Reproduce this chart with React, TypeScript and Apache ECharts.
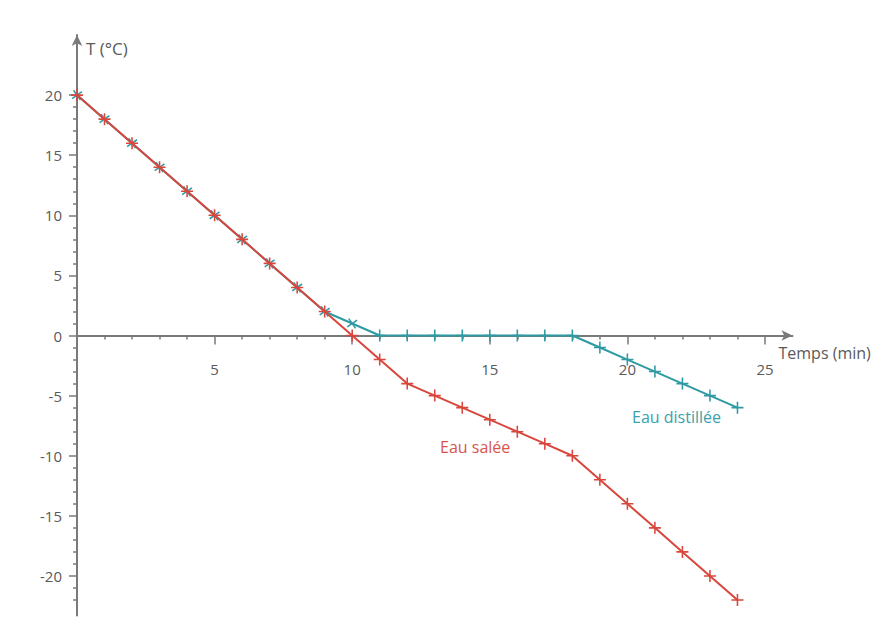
import { useEffect, useRef } from 'react';
import * as echarts from 'echarts';

const times = [0, 1, 2, 3, 4, 5, 6, 7, 8, 9, 10, 11, 12, 13, 14, 15, 16, 17, 18, 19, 20, 21, 22, 23, 24];
const eauSalee = [20, 18, 16, 14, 12, 10, 8, 6, 4, 2, 0, -2, -4, -5, -6, -7, -8, -9, -10, -12, -14, -16, -18, -20, -22];
const eauDistillee = [20, 18, 16, 14, 12, 10, 8, 6, 4, 2, 1, 0, 0, 0, 0, 0, 0, 0, 0, -1, -2, -3, -4, -5, -6];

const xMajorTicks = [5, 10, 15, 20, 25];
const xMinorTicks = [1, 2, 3, 4, 6, 7, 8, 9, 11, 12, 13, 14, 16, 17, 18, 19, 21, 22, 23, 24];
const yMajorTicks = [-20, -15, -10, -5, 0, 5, 10, 15, 20];
const yMinorTicks = [-22, -21, -19, -18, -17, -16, -14, -13, -12, -11, -9, -8, -7, -6, -4, -3, -2, -1, 1, 2, 3, 4, 6, 7, 8, 9, 11, 12, 13, 14, 16, 17, 18, 19];

const RED = '#d8463c';
const TEAL = '#2e9aa4';
const AXIS = '#7a7a7a';
const TEXT = '#5a5a5a';
const FONT = '"Open Sans", "Noto Sans", sans-serif';
const PLUS = 'path://M-0.13,-1H0.13V-0.13H1V0.13H0.13V1H-0.13V0.13H-1V-0.13H-0.13Z';

const Y_MIN = -23.3;
const Y_MAX = 25;
const GRID_TOP = 35;
const GRID_BOTTOM = 15.4;
const H = 631;

export default function App() {
  const ref = useRef<HTMLDivElement>(null);
  useEffect(() => {
    const chart = echarts.init(ref.current!, null, { renderer: 'svg' });
    const plotH = H - GRID_TOP - GRID_BOTTOM;
    const zeroFromBottom = (0 - Y_MIN) / (Y_MAX - Y_MIN) * plotH;
    const xBase = { type: 'value', min: 0, max: 26, position: 'bottom', splitLine: { show: false } };
    const yBase = { type: 'value', min: Y_MIN, max: Y_MAX, position: 'left', splitLine: { show: false } };
    chart.setOption({
      animation: false,
      backgroundColor: '#ffffff',
      grid: { left: 77, right: 97.5, top: GRID_TOP, bottom: GRID_BOTTOM, containLabel: false, outerBoundsMode: 'none' },
      xAxis: [
        {
          ...xBase,
          name: 'Temps (min)',
          nameLocation: 'end',
          nameGap: -14,
          nameTextStyle: { color: TEXT, fontSize: 16, fontFamily: FONT, align: 'left', verticalAlign: 'top', padding: [9, 0, 0, 0] },
          axisLine: { show: true, onZero: true, symbol: ['none', 'arrow'], symbolSize: [8, 11], lineStyle: { color: AXIS, width: 2 } },
          axisTick: { show: true, customValues: xMinorTicks, length: 4, lineStyle: { color: AXIS, width: 1.5 } },
          axisLabel: { show: false },
        },
        {
          ...xBase,
          offset: -zeroFromBottom,
          axisLine: { show: false, onZero: false },
          axisTick: { show: true, customValues: xMajorTicks, length: 9, lineStyle: { color: AXIS, width: 1.5 } },
          axisLabel: { show: true, customValues: xMajorTicks, margin: 26, color: TEXT, fontSize: 15, fontFamily: FONT },
        },
      ],
      yAxis: [
        {
          ...yBase,
          name: 'T (°C)',
          nameLocation: 'end',
          nameGap: -5,
          nameTextStyle: { color: TEXT, fontSize: 17, fontFamily: FONT, align: 'left', verticalAlign: 'top', padding: [0, 0, 0, 9] },
          axisLine: { show: true, onZero: true, symbol: ['none', 'arrow'], symbolSize: [8, 11], lineStyle: { color: AXIS, width: 2 } },
          axisTick: { show: true, customValues: yMinorTicks, length: 4, lineStyle: { color: AXIS, width: 1.5 } },
          axisLabel: { show: false },
        },
        {
          ...yBase,
          axisLine: { show: false, onZero: false },
          axisTick: { show: true, customValues: yMajorTicks, length: 8, lineStyle: { color: AXIS, width: 1.5 } },
          axisLabel: { show: true, customValues: yMajorTicks, margin: 15, color: TEXT, fontSize: 15, fontFamily: FONT },
        },
      ],
      series: [
        {
          name: 'Eau distillée',
          type: 'line',
          xAxisIndex: 1,
          yAxisIndex: 1,
          data: times.map((t, i) => ({ value: [t, eauDistillee[i]], symbolRotate: t <= 10 ? 35 : 0 })),
          symbol: PLUS,
          symbolSize: 12,
          showSymbol: true,
          lineStyle: { color: TEAL, width: 2 },
          itemStyle: { color: TEAL },
          z: 2,
        },
        {
          name: 'Eau salée',
          type: 'line',
          xAxisIndex: 0,
          yAxisIndex: 0,
          data: times.map((t, i) => [t, eauSalee[i]]),
          symbol: PLUS,
          symbolSize: 12,
          showSymbol: true,
          lineStyle: { color: RED, width: 2 },
          itemStyle: { color: RED },
          z: 3,
        },
      ],
      graphic: [
        { type: 'text', left: 440, top: 439, style: { text: 'Eau salée', fill: '#d9554c', font: `16px ${FONT}` } },
        { type: 'text', left: 632, top: 409, style: { text: 'Eau distillée', fill: '#3aa2ab', font: `16px ${FONT}` } },
      ],
    });
    return () => chart.dispose();
  }, []);
  return <div ref={ref} style={{ position: 'absolute', left: 0, top: 0, width: 890, height: 631 }} />;
}
